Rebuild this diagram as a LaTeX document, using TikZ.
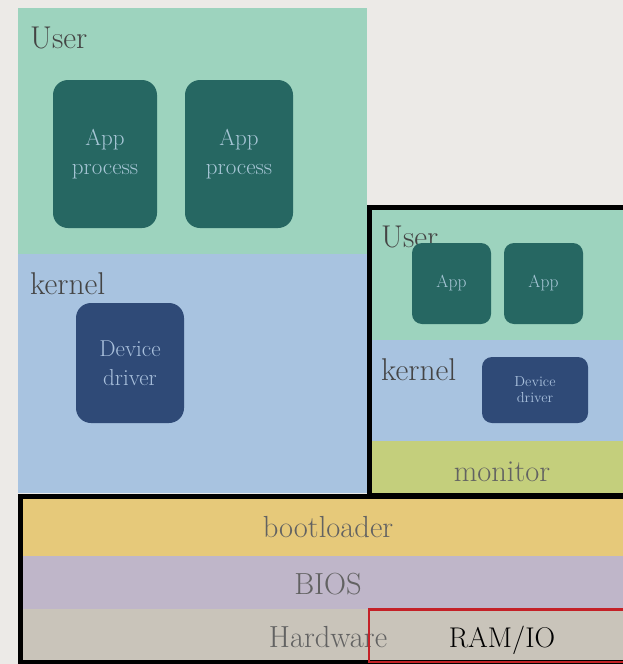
\documentclass[tikz,border=0pt]{standalone}
\definecolor{bg}{HTML}{ECEAE7}
\definecolor{usergreen}{HTML}{9DD3BE}
\definecolor{kernblue}{HTML}{A8C3E0}
\definecolor{appdark}{HTML}{266762}
\definecolor{drvdark}{HTML}{2F4A77}
\definecolor{monfill}{HTML}{C4CF7C}
\definecolor{bootfill}{HTML}{E6C97A}
\definecolor{biosfill}{HTML}{BFB6C9}
\definecolor{hwfill}{HTML}{C9C4BA}
\definecolor{apptext}{HTML}{A7C6D6}
\definecolor{drvtext}{HTML}{A9C0DC}
\definecolor{labdark}{HTML}{444444}
\definecolor{labgray}{HTML}{626262}
\definecolor{ramred}{HTML}{C42127}
\begin{document}
\begin{tikzpicture}[x=1pt,y=-1pt,
  biglab/.style={inner sep=0pt,text=labdark,font=\fontsize{31.5}{36}\selectfont},
  laylab/.style={inner sep=0pt,text=labgray,font=\fontsize{30.5}{36}\selectfont},
  appbox/.style={fill=appdark,rounded corners=15pt,text=apptext,align=center,inner sep=0pt,
     font=\fontsize{23}{29}\selectfont},
  drvbox/.style={fill=drvdark,rounded corners=15pt,text=drvtext,align=center,inner sep=0pt,
     font=\fontsize{23}{29}\selectfont},
  sapp/.style={fill=appdark,rounded corners=10pt,text=apptext,inner sep=0pt,
     font=\fontsize{17.5}{20}\selectfont,minimum width=79pt,minimum height=81pt},
  sdrv/.style={fill=drvdark,rounded corners=10pt,text=drvtext,align=center,inner sep=0pt,
     font=\fontsize{14.5}{16}\selectfont,minimum width=106pt,minimum height=66pt},
  frame/.style={draw=black,line width=5pt}]
\useasboundingbox (0,0) rectangle (623,664);
\fill[bg] (0,0) rectangle (623,664);
% left machine
\fill[usergreen] (18,8) rectangle (367,254);
\fill[kernblue] (18,254) rectangle (367,493);
\node[biglab,anchor=base west] (user1) at (30,48) {User};
\node[biglab,anchor=base west] (kern1) at (30,294) {kernel};
\node[appbox,minimum width=104pt,minimum height=148pt] (app1) at (105,154) {App\\process};
\node[appbox,minimum width=108pt,minimum height=148pt] (app2) at (239,154) {App\\process};
\node[drvbox,minimum width=108pt,minimum height=120pt] (drv1) at (130,363) {Device\\driver};
% right virtual machine
\fill[usergreen] (372,210) rectangle (623,340);
\fill[kernblue] (372,340) rectangle (623,441);
\fill[monfill] (372,441) rectangle (623,494);
\node[biglab,anchor=base west] (user2) at (381,247) {User};
\node[sapp] (sapp1) at (451.5,283.5) {App};
\node[sapp] (sapp2) at (543.5,283.5) {App};
\node[biglab,anchor=base west] (kern2) at (381,380) {kernel};
\node[sdrv] (drv2) at (535,390) {Device\\driver};
\node[laylab,anchor=base] (mon) at (502,481) {monitor};
\draw[frame] (369.5,207) rectangle (640,495);
% bottom layers
\fill[bootfill] (23,499) rectangle (623,556);
\fill[biosfill] (23,556) rectangle (623,609);
\fill[hwfill] (23,609) rectangle (623,661);
\node[laylab,anchor=base] (boot) at (328,537) {bootloader};
\node[laylab,anchor=base] (bios) at (328,594) {BIOS};
\node[laylab,anchor=base] (hw) at (328,647) {Hardware};
\draw[frame] (20.5,496) rectangle (640,662);
\draw[draw=ramred,line width=2.2pt] (369,609.5) rectangle (640,662);
\node[inner sep=0pt,anchor=base,text=black,font=\fontsize{28.5}{32}\selectfont] (ram) at (502,647) {RAM/IO};
\end{tikzpicture}
\end{document}
